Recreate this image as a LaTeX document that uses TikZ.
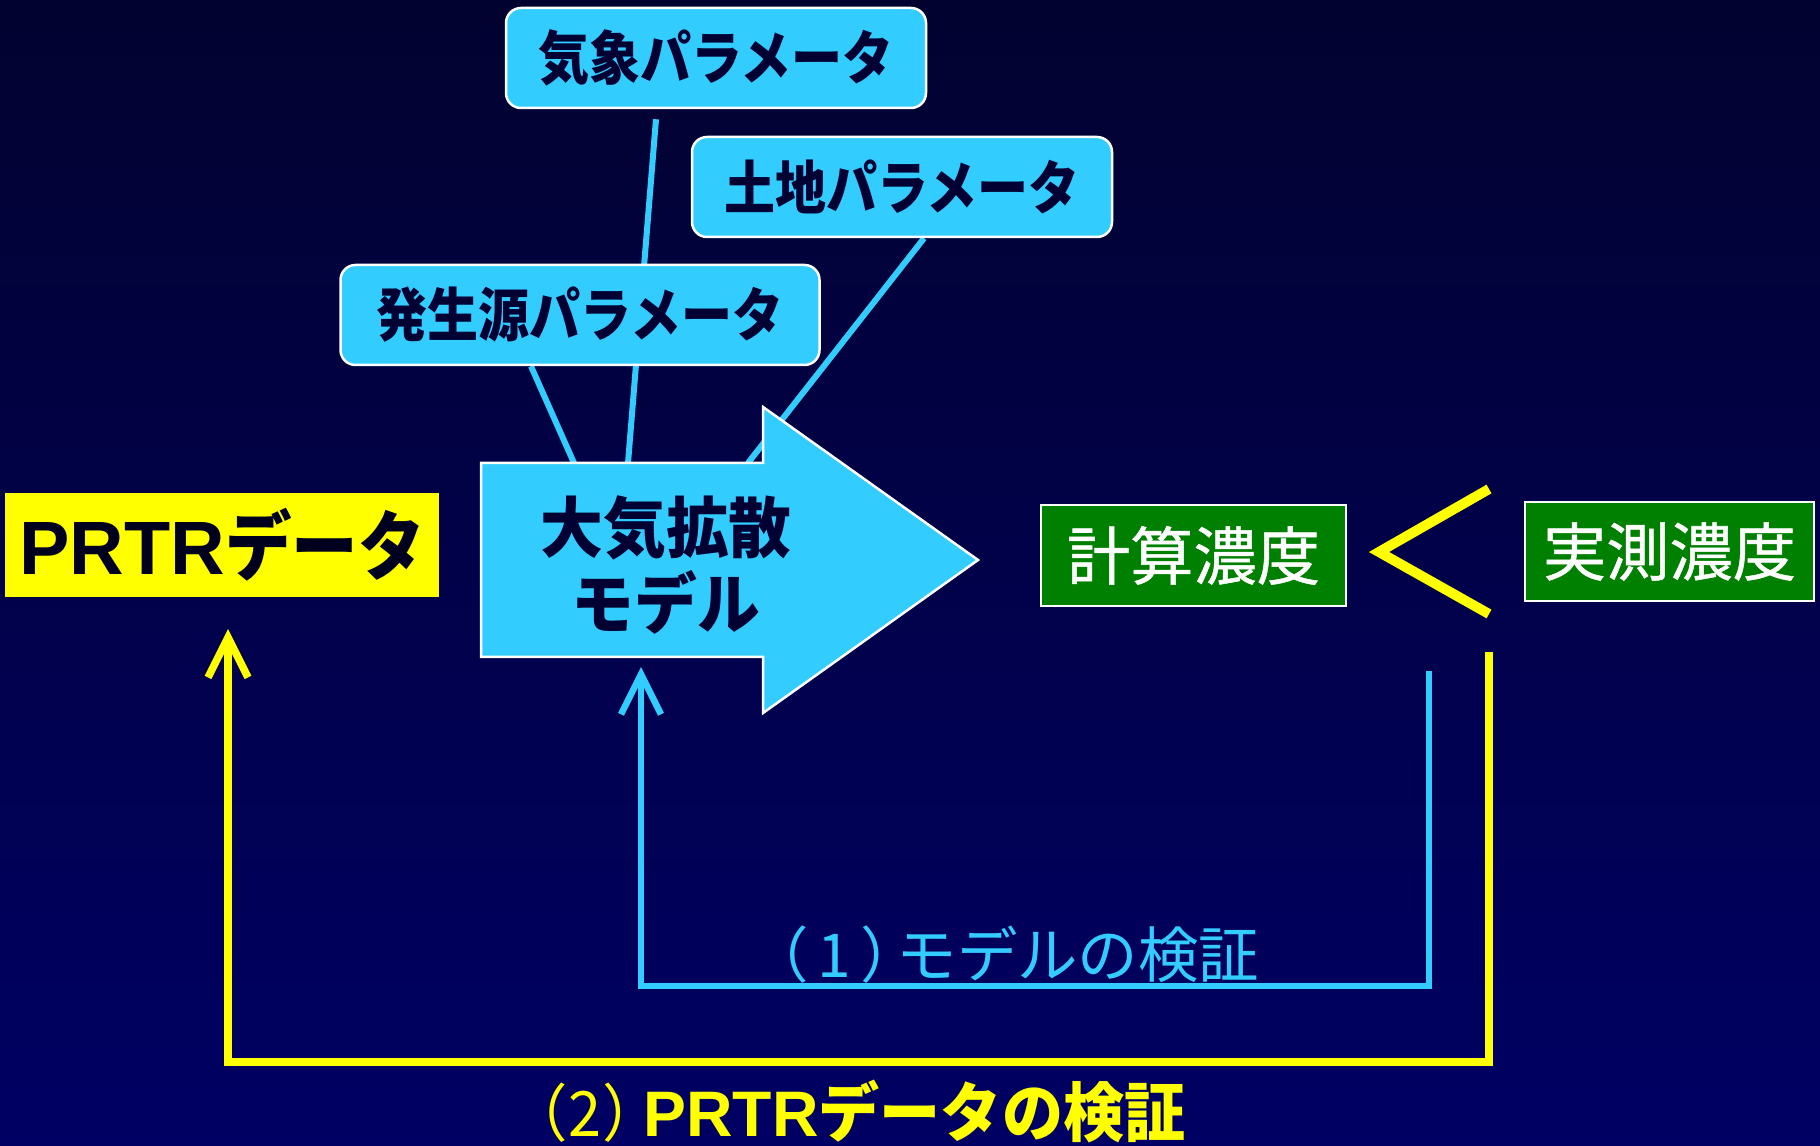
\documentclass[tikz,border=0pt]{standalone}
\usepackage{fontspec}
\usetikzlibrary{arrows.meta}
\newfontfamily\jp{Noto Sans CJK JP}
\newfontfamily\jpm[FakeBold=0.8]{Noto Sans CJK JP}
\newfontfamily\jpc[FakeStretch=0.88]{Noto Sans CJK JP}
\newfontfamily\jpd[FakeStretch=0.95]{Noto Sans CJK JP}
\newfontfamily\lat{Liberation Sans}
\definecolor{bgtop}{RGB}{2,2,48}
\definecolor{bgbot}{RGB}{0,0,100}
\definecolor{sky}{RGB}{51,204,255}
\definecolor{navy}{RGB}{0,0,51}
\definecolor{ink}{RGB}{0,0,30}
\definecolor{grn}{RGB}{0,128,0}
\definecolor{ylw}{RGB}{255,255,0}
\pgfdeclarelayer{back}
\pgfdeclarelayer{mid}
\pgfsetlayers{back,mid,main}
\begin{document}
\begin{tikzpicture}[x=0.1mm,y=-0.1mm,
  parbox/.style={draw=white, line width=0.25mm, fill=sky, rounded corners=1.5mm,
    minimum height=10mm, inner sep=0pt, text=navy,
    font=\jpc\bfseries\fontsize{16.5pt}{19pt}\selectfont},
  grnbox/.style={draw=white, line width=0.25mm, fill=grn, inner sep=0pt, text=white,
    font=\jpm\fontsize{18pt}{21pt}\selectfont},
  link/.style={draw=sky, line width=0.6mm},
  cyline/.style={draw=sky, line width=0.65mm, line join=miter},
  yline/.style={draw=ylw, line width=0.75mm, line join=miter},
  barb/.style={-{Straight Barb[length=4mm,width=4mm]}}
]
\useasboundingbox (0,0) rectangle (1820,1146);
\begin{pgfonlayer}{back}
\shade[top color=bgtop, bottom color=bgbot] (0,0) rectangle (1820,1146);
\end{pgfonlayer}

% parameter boxes
\node[parbox, minimum width=42mm] (kisho) at (716,58) {気象パラメータ};
\node[parbox, minimum width=42mm] (tochi) at (902,187) {土地パラメータ};
\node[parbox, minimum width=47.9mm] (hassei) at (580,315) {発生源パラメータ};

% big arrow (dispersion model)
\coordinate (mA) at (628,463);
\coordinate (mB) at (574,463);
\coordinate (mC) at (748,463);
\draw[fill=sky, draw=white, line width=0.25mm] (481,463) -- (763,463) -- (763,407)
  -- (978,560) -- (763,713) -- (763,657) -- (481,657) -- cycle;
\node[align=center, text=navy, inner sep=0pt,
  font=\jpd\bfseries\fontsize{18.8pt}{21.6pt}\selectfont] (model) at (666,565)
  {大気拡散\\モデル};

\begin{pgfonlayer}{mid}
\draw[link] ([xshift=-6mm,yshift=-1mm]kisho.south) -- (mA);
\draw[link] ([xshift=-4.9mm]hassei.south) -- (mB);
\draw[link] ([xshift=2.2mm]tochi.south) -- (mC);
\end{pgfonlayer}

% PRTR data
\node[fill=ylw, minimum width=43.4mm, minimum height=10.4mm, inner sep=0pt, text=ink] (prtr) at (222,545)
  {{\lat\bfseries\fontsize{21.5pt}{24pt}\selectfont PRTR}{\jpc\bfseries\fontsize{21.5pt}{24pt}\selectfont データ}};

% concentrations
\node[grnbox, minimum width=30.5mm, minimum height=10.1mm] (calc) at (1193.5,555.5) {計算濃度};
\node[grnbox, minimum width=28.9mm, minimum height=9.9mm] (meas) at (1669.5,551.5) {実測濃度};

% "<" sign
\coordinate (lt1) at (1489,489);
\coordinate (lt2) at (1379,552);
\coordinate (lt3) at (1489,614);
\draw[draw=ylw, line width=1mm, line join=miter] (lt1) -- (lt2) -- (lt3);

% (1) model verification loop
\coordinate (f1) at (1429,671);
\coordinate (fc) at (0,986);
\coordinate (ft) at (641,667);
\draw[cyline, barb] (f1) -- (f1 |- fc) -| (ft);

% (2) PRTR verification loop
\coordinate (g1) at (1489,652);
\coordinate (gc) at (0,1062);
\coordinate (gt) at (228,629);
\draw[yline, barb] (g1) -- (g1 |- gc) -| (gt);

% labels
\node[anchor=east, text=sky, inner sep=0pt, font=\jp\fontsize{17.2pt}{20pt}\selectfont] (lab1) at (1260,955)
  {（\kern0.15em 1\kern0.15em ）\kern-0.4em モデルの検証};
\node[anchor=east, text=ylw, inner sep=0pt, font=\jpd\fontsize{17.8pt}{20pt}\selectfont] (lab2) at (1186,1112)
  {（\kern0.02em 2\kern0.02em ）\kern-0.3em{\bfseries\fontsize{18.3pt}{20pt}\selectfont{\lat\bfseries PRTR}データの検証}};
\end{tikzpicture}
\end{document}
